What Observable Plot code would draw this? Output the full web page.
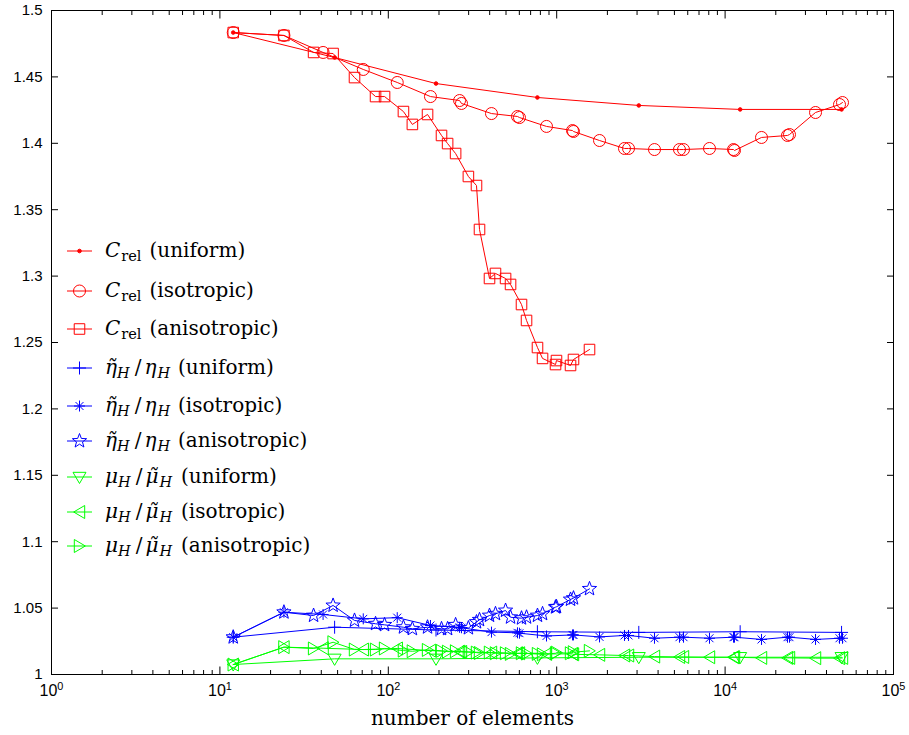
<!DOCTYPE html>
<html><head><meta charset="utf-8">
<script src="https://cdn.jsdelivr.net/npm/d3@7"></script>
<script src="https://cdn.jsdelivr.net/npm/@observablehq/plot@0.6"></script>
<style>
body{margin:0;background:#fff;}
#wrap{position:relative;width:909px;height:735px;}
#legend{position:absolute;left:0;top:0;pointer-events:none;}
</style></head><body><div id="wrap"></div>
<script>
// ---------------- data ----------------
const nUniform = [12, 48, 192, 768, 3072, 12288, 49152];
const cUniform   = [1.4834, 1.4646, 1.4450, 1.4345, 1.4285, 1.4255, 1.4255];
const etaUniform = [1.0281, 1.0356, 1.0335, 1.0322, 1.0317, 1.0322, 1.0317];
const muUniform  = [1.0075, 1.0118, 1.0118, 1.0125, 1.0130, 1.0130, 1.0130];

const nIso = [12, 24, 41, 71, 113, 178, 265, 272, 410, 585, 601, 870, 1241, 1258, 1796,
  2527, 2670, 3808, 5360, 5662, 8079, 11218, 11370, 16454, 23470, 24120, 34430, 47790, 49790];
const cIso = [1.4834, 1.4812, 1.4684, 1.4556, 1.4458, 1.4352, 1.4322, 1.4300, 1.4224, 1.4202,
  1.4194, 1.4127, 1.4096, 1.4089, 1.4021, 1.3961, 1.3961, 1.3953, 1.3953, 1.3953,
  1.3961, 1.3953, 1.3946, 1.4044, 1.4059, 1.4066, 1.4232, 1.4292, 1.4307];
const etaIso = [1.0281, 1.0469, 1.0452, 1.0419, 1.0428, 1.0369, 1.0355, 1.0352, 1.0319, 1.0314,
  1.0311, 1.0290, 1.0298, 1.0298, 1.0283, 1.0294, 1.0294, 1.0273, 1.0281, 1.0281,
  1.0273, 1.0281, 1.0281, 1.0264, 1.0281, 1.0281, 1.0264, 1.0273, 1.0273];
const muIso = [1.0075, 1.0206, 1.0198, 1.0188, 1.0196, 1.0180, 1.0172, 1.0170, 1.0165, 1.0160,
  1.0160, 1.0155, 1.0155, 1.0152, 1.0148, 1.0143, 1.0143, 1.0135, 1.0132, 1.0132,
  1.0130, 1.0130, 1.0130, 1.0125, 1.0125, 1.0125, 1.0123, 1.0123, 1.0125];

const nAniso = [12, 24, 36, 47, 63, 84, 95, 123, 139, 171, 207, 225, 251, 299, 334,
  348, 399, 433, 497, 532, 618, 662, 769, 824, 984, 997, 1208, 1258, 1566];
const cAniso = [1.4834, 1.4812, 1.4684, 1.4676, 1.4495, 1.4352, 1.4352, 1.4239, 1.4142, 1.4217,
  1.4059, 1.3998, 1.3923, 1.3750, 1.3682, 1.3351, 1.2982, 1.3020, 1.2982, 1.2937,
  1.2786, 1.2666, 1.2462, 1.2380, 1.2334, 1.2364, 1.2327, 1.2372, 1.2447];
const etaAniso = [1.0281, 1.0469, 1.0444, 1.0520, 1.0407, 1.0382, 1.0374, 1.0356, 1.0344, 1.0356,
  1.0344, 1.0344, 1.0374, 1.0350, 1.0395, 1.0412, 1.0444, 1.0457, 1.0482, 1.0431,
  1.0424, 1.0431, 1.0444, 1.0457, 1.0507, 1.0510, 1.0565, 1.0575, 1.0645];
const muAniso = [1.0075, 1.0206, 1.0196, 1.0243, 1.0188, 1.0188, 1.0196, 1.0180, 1.0175, 1.0185,
  1.0178, 1.0172, 1.0175, 1.0170, 1.0165, 1.0162, 1.0165, 1.0160, 1.0160, 1.0155,
  1.0160, 1.0158, 1.0155, 1.0152, 1.0160, 1.0165, 1.0160, 1.0168, 1.0178];

const xTicks = [1, 10, 100, 1000, 10000, 100000];
const xTickLabels = ["10^0", "10^1", "10^2", "10^3", "10^4", "10^5"];
const yTicks = [1, 1.05, 1.1, 1.15, 1.2, 1.25, 1.3, 1.35, 1.4, 1.45, 1.5];
const yTickLabels = ["1", "1.05", "1.1", "1.15", "1.2", "1.25", "1.3", "1.35", "1.4", "1.45", "1.5"];
const xLabel = "number of elements";

const legendQuantity = ["C", "C", "C", "eta", "eta", "eta", "mu", "mu", "mu"];
const legendMethod = ["(uniform)", "(isotropic)", "(anisotropic)",
                      "(uniform)", "(isotropic)", "(anisotropic)",
                      "(uniform)", "(isotropic)", "(anisotropic)"];

// ---------------- symbols ----------------
const symbolDraw = {
  dot: (c, r) => { c.moveTo(r, 0); c.arc(0, 0, r, 0, 2 * Math.PI); },
  circle: (c, r) => { c.moveTo(r, 0); c.arc(0, 0, r, 0, 2 * Math.PI); },
  square: (c, r) => { const s = r * 0.88; c.moveTo(-s, -s); c.lineTo(s, -s); c.lineTo(s, s); c.lineTo(-s, s); c.closePath(); },
  plus: (c, r) => { c.moveTo(-r, 0); c.lineTo(r, 0); c.moveTo(0, -r); c.lineTo(0, r); },
  asterisk: (c, r) => {
    c.moveTo(-r, 0); c.lineTo(r, 0); c.moveTo(0, -r); c.lineTo(0, r);
    const d = r * 0.72; c.moveTo(-d, -d); c.lineTo(d, d); c.moveTo(-d, d); c.lineTo(d, -d);
  },
  star: (c, r) => {
    for (let k = 0; k < 10; k++) {
      const a = -Math.PI / 2 + k * Math.PI / 5, rad = k % 2 ? r * 0.42 : r;
      const px = rad * Math.cos(a), py = rad * Math.sin(a);
      k ? c.lineTo(px, py) : c.moveTo(px, py);
    }
    c.closePath();
  },
  triDown: (c, r) => { c.moveTo(-r, -0.72 * r); c.lineTo(r, -0.72 * r); c.lineTo(0, r); c.closePath(); },
  triLeft: (c, r) => { c.moveTo(-0.9 * r, 0); c.lineTo(0.8 * r, -r); c.lineTo(0.8 * r, r); c.closePath(); },
  triRight: (c, r) => { c.moveTo(0.9 * r, 0); c.lineTo(-0.8 * r, -r); c.lineTo(-0.8 * r, r); c.closePath(); }
};
const toSymbol = name => ({ draw(ctx, size) { symbolDraw[name](ctx, Math.sqrt(size / Math.PI)); } });

const RED = "#ff0000", BLUE = "#0000ff", GREEN = "#00ff00";
const seriesDefs = [
  { x: nUniform, y: cUniform, color: RED, symbol: "dot", r: 1.8, fill: true },
  { x: nIso, y: cIso, color: RED, symbol: "circle", r: 6 },
  { x: nAniso, y: cAniso, color: RED, symbol: "square", r: 6 },
  { x: nUniform, y: etaUniform, color: BLUE, symbol: "plus", r: 6.5 },
  { x: nIso, y: etaIso, color: BLUE, symbol: "asterisk", r: 5.5 },
  { x: nAniso, y: etaAniso, color: BLUE, symbol: "star", r: 7.5 },
  { x: nUniform, y: muUniform, color: GREEN, symbol: "triDown", r: 6.5 },
  { x: nIso, y: muIso, color: GREEN, symbol: "triLeft", r: 6.5 },
  { x: nAniso, y: muAniso, color: GREEN, symbol: "triRight", r: 6.5 }
];

const xMinor = [];
for (let k = 0; k < 5; k++) for (let m = 2; m <= 9; m++) xMinor.push(m * 10 ** k);

const yFmt = d => { const i = yTicks.findIndex(t => Math.abs(t - d) < 1e-9); return i >= 0 ? yTickLabels[i] : ""; };
const xFmt = d => { const i = xTicks.findIndex(t => Math.abs(t - d) / t < 1e-9); return i >= 0 ? xTickLabels[i] : ""; };

const marks = [];
for (const s of seriesDefs) {
  const rows = s.x.map((n, i) => ({ n, v: s.y[i] }));
  marks.push(Plot.line(rows, { x: "n", y: "v", stroke: s.color, strokeWidth: 1 }));
  marks.push(Plot.dot(rows, { x: "n", y: "v", symbol: toSymbol(s.symbol), r: s.r,
    stroke: s.color, fill: s.fill ? s.color : "none", strokeWidth: 1 }));
}

const sans = "'Liberation Sans', Arial, sans-serif";
marks.push(
  Plot.axisX(xTicks, { anchor: "bottom", tickSize: -7.5, tickPadding: 17.5, tickFormat: xFmt, label: null, fontSize: 16, fontFamily: sans }),
  Plot.axisX(xMinor, { anchor: "bottom", tickSize: -4, tickFormat: () => "", label: null }),
  Plot.axisX(xTicks, { anchor: "top", tickSize: -7.5, tickFormat: () => "", label: null }),
  Plot.axisX(xMinor, { anchor: "top", tickSize: -4, tickFormat: () => "", label: null }),
  Plot.axisY(yTicks, { anchor: "left", tickSize: -7, tickPadding: 16, tickFormat: yFmt, label: null, fontSize: 15, fontFamily: sans }),
  Plot.axisY(yTicks, { anchor: "right", tickSize: -7, tickFormat: () => "", label: null }),
  Plot.frame({ stroke: "black", strokeWidth: 1 }),
  Plot.text([xLabel], { frameAnchor: "bottom", dy: 44.5, lineAnchor: "middle",
    fontFamily: "'DejaVu Serif', serif", fontSize: 20, fill: "black" })
);

const chart = Plot.plot({
  width: 909, height: 735,
  marginLeft: 51, marginRight: 16, marginTop: 10, marginBottom: 61,
  x: { type: "log", domain: [1, 1e5], label: null },
  y: { domain: [1, 1.5], label: null },
  style: { background: "white", color: "black", fontFamily: sans },
  marks
});

// superscript exponents on x tick labels
d3.select(chart).selectAll('g[aria-label="x-axis tick label"] text').each(function () {
  const t = this.textContent;
  if (!t || t.indexOf("^") < 0) return;
  const [base, exp] = t.split("^");
  const sel = d3.select(this);
  sel.text(null);
  sel.append("tspan").text(base);
  sel.append("tspan").attr("dy", "-0.5em").attr("font-size", "0.68em").text(exp);
});

const wrap = document.getElementById("wrap");
wrap.appendChild(chart);

// ---------------- legend (inside the axes) ----------------
const legendRowY = [251, 291, 329, 368, 406, 441, 477, 512, 546];
const lg = d3.select(wrap).append("svg").attr("id", "legend")
  .attr("width", 909).attr("height", 735);
const serif = "'DejaVu Serif', serif";
seriesDefs.forEach((s, i) => {
  const y = legendRowY[i];
  const g = lg.append("g").attr("transform", `translate(0,${y})`);
  g.append("line").attr("x1", 67).attr("x2", 92).attr("y1", 0).attr("y2", 0)
    .attr("stroke", s.color).attr("stroke-width", 1);
  const p = d3.path();
  symbolDraw[s.symbol](p, s.symbol === "dot" ? 1.8 : s.r);
  g.append("path").attr("transform", "translate(79.5,0)").attr("d", p.toString())
    .attr("stroke", s.color).attr("fill", s.fill ? s.color : "none").attr("stroke-width", 1);

  const t = g.append("text").attr("x", 105).attr("y", 6)
    .attr("font-family", serif).attr("font-size", 20).attr("fill", "black");
  const ts = (txt, o = {}) => {
    const e = t.append("tspan").text(txt);
    if (o.it) e.attr("font-style", "italic");
    if (o.size) e.attr("font-size", o.size);
    if (o.dy) e.attr("dy", o.dy);
    if (o.dx) e.attr("dx", o.dx);
    return e;
  };
  const q = legendQuantity[i];
  if (q === "C") {
    ts("C", { it: true });
    ts("rel", { size: 14.5, dy: 4, dx: 1 });
    ts(legendMethod[i], { dy: -4, dx: 8 });
  } else if (q === "eta") {
    ts("η\u0303", { it: true });
    ts("H", { it: true, size: 14.5, dy: 4 });
    ts("/", { dy: -4, dx: 5 });
    ts("η", { it: true, dx: 3 });
    ts("H", { it: true, size: 14.5, dy: 4, dx: 1 });
    ts(legendMethod[i], { dy: -4, dx: 8 });
  } else {
    ts("μ", { it: true });
    ts("H", { it: true, size: 14.5, dy: 4 });
    ts("/", { dy: -4, dx: 5 });
    ts("μ\u0303", { it: true, dx: 3 });
    ts("H", { it: true, size: 14.5, dy: 4, dx: 1 });
    ts(legendMethod[i], { dy: -4, dx: 9 });
  }
});
</script>
</body></html>
